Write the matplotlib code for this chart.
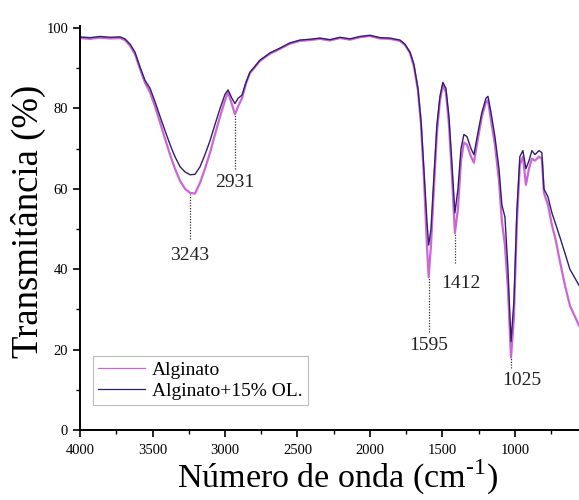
import matplotlib
matplotlib.use("Agg")
import matplotlib.pyplot as plt
from matplotlib.ticker import MultipleLocator

plt.rcParams['font.family'] = ['Liberation Serif', 'DejaVu Serif']
plt.rcParams['mathtext.fontset'] = 'custom'
plt.rcParams['mathtext.rm'] = 'Liberation Serif'

wavenumber = [4000, 3931, 3862, 3793, 3724, 3690, 3655, 3621, 3586, 3552, 3517, 3483,
              3448, 3414, 3379, 3345, 3310, 3276, 3241, 3207, 3172, 3138, 3103, 3069,
              3034, 3000, 2979, 2952, 2931, 2910, 2883, 2855, 2828, 2793, 2759, 2690,
              2621, 2552, 2483, 2414, 2345, 2276, 2207, 2138, 2069, 2000, 1931, 1862,
              1793, 1759, 1724, 1697, 1669, 1648, 1628, 1607, 1595, 1579, 1559, 1538,
              1517, 1497, 1476, 1455, 1434, 1414, 1393, 1372, 1352, 1331, 1303, 1283,
              1255, 1228, 1200, 1186, 1165, 1138, 1110, 1090, 1069, 1048, 1027, 1007,
              986, 966, 945, 924, 903, 883, 862, 834, 814, 800, 772, 745, 717, 690,
              655, 621, 558]

alginato = [97.5, 97.3, 97.6, 97.4, 97.5, 97.0, 95.6, 93.5, 89.8, 86.4, 84.0, 80.5,
            76.5, 72.5, 68.5, 65.0, 62.0, 60.0, 59.0, 58.8, 61.5, 65.0, 69.0, 73.5,
            78.0, 82.0, 84.0, 81.0, 78.5, 80.5, 82.5, 86.2, 88.8, 90.3, 91.8, 93.6,
            94.8, 96.1, 96.8, 97.0, 97.3, 96.9, 97.5, 97.1, 97.7, 98.0, 97.4, 97.3,
            96.8, 95.8, 93.8, 90.5, 84.5, 76.0, 63.0, 46.0, 38.0, 46.0, 60.0, 74.0,
            82.0, 85.8, 84.0, 76.0, 63.0, 49.0, 55.0, 67.0, 71.5, 71.0, 68.0, 66.5,
            72.5, 78.0, 81.5, 82.0, 77.0, 71.0, 62.0, 52.0, 46.0, 35.0, 18.0, 28.0,
            52.0, 66.0, 68.0, 61.0, 65.0, 67.5, 67.0, 68.0, 67.5, 59.0, 56.0, 51.0,
            47.0, 42.0, 36.0, 31.0, 26.0]

alginato_ol = [97.8, 97.6, 97.9, 97.7, 97.8, 97.3, 96.0, 94.0, 90.3, 87.0, 85.0, 81.7,
               78.0, 74.5, 71.0, 68.0, 65.5, 64.2, 63.5, 63.6, 65.5, 68.5, 72.0, 76.0,
               80.0, 83.5, 84.6, 82.5, 81.2, 82.5, 83.3, 86.5, 89.0, 90.5, 92.0, 93.8,
               95.0, 96.3, 97.0, 97.2, 97.5, 97.1, 97.7, 97.3, 97.9, 98.2, 97.6, 97.5,
               97.0, 96.0, 94.0, 91.0, 85.0, 77.0, 65.0, 52.0, 46.0, 50.0, 63.0, 76.0,
               83.0, 86.5, 85.0, 78.0, 66.0, 54.0, 60.0, 70.0, 73.5, 73.0, 70.0, 68.5,
               74.0, 79.0, 82.5, 83.0, 79.0, 73.0, 65.0, 56.0, 53.0, 40.0, 22.0, 32.0,
               55.0, 68.0, 69.5, 65.0, 67.0, 69.5, 68.5, 69.5, 69.0, 60.0, 58.0, 54.0,
               51.0, 48.0, 44.0, 40.0, 36.0]

peak_labels = ['3243', '2931', '1595', '1412', '1025']
peak_positions = [3243, 2931, 1595, 1412, 1025]
peak_top = [58.8, 78.5, 38.0, 49.0, 18.0]
peak_bottom = [47.5, 65.0, 24.5, 41.5, 15.5]
label_y = [43.5, 61.5, 21.0, 36.5, 12.3]
label_dx = [0, 0, 0, -40, -70]

fig = plt.figure(figsize=(5.79, 5.00), dpi=100)
ax = fig.add_axes([0.1382, 0.14, 0.8618, 0.808])

ax.plot(wavenumber, alginato, color='#cc66d6', lw=1.6, label='Alginato')
ax.plot(wavenumber, alginato_ol, color='#2e1f6e', lw=1.0, label='Alginato+15% OL.')

for lab, xp, yt, yb, ly, dx in zip(peak_labels, peak_positions, peak_top, peak_bottom, label_y, label_dx):
    ax.plot([xp, xp], [yb, yt], color='#333333', lw=0.9, ls=(0, (1, 1.2)))
    ax.text(xp + dx, ly, lab, ha='center', va='center', fontsize=14, color='#222222')

ax.set_xlim(4000, 558)
ax.set_ylim(0, 100.5)
ax.xaxis.set_minor_locator(MultipleLocator(250))
ax.yaxis.set_minor_locator(MultipleLocator(10))
ax.set_yticks([0, 20, 40, 60, 80, 100])
ax.set_xticks([4000, 3500, 3000, 2500, 2000, 1500, 1000])

for s in ['top', 'right']:
    ax.spines[s].set_visible(False)
for s in ['left', 'bottom']:
    ax.spines[s].set_linewidth(1.4)
ax.tick_params(axis='both', which='major', direction='out', length=5, width=1.2, labelsize=10.5)
ax.tick_params(axis='x', which='major', pad=5)
ax.tick_params(axis='both', which='minor', direction='out', length=3, width=1.0)

ax.set_xlabel('Número de onda (cm$^{\\text{-}1}$)', fontsize=24.5, va='center')
ax.xaxis.set_label_coords(0.516, -0.117)
ax.set_ylabel('Transmitância (%)', fontsize=26.5, va='center')
ax.yaxis.set_label_coords(-0.104, 0.516)

leg = ax.legend(loc='lower left', bbox_to_anchor=(0.026, 0.062), fontsize=14,
                frameon=True, fancybox=False, edgecolor='#bbbbbb', framealpha=1,
                handlelength=2.4, handletextpad=0.4, borderpad=0.25,
                labelspacing=0.2, borderaxespad=0)
leg.get_frame().set_linewidth(0.8)
for line in leg.get_lines():
    line.set_linewidth(0.9)

fig.savefig('out.png', dpi=100)
